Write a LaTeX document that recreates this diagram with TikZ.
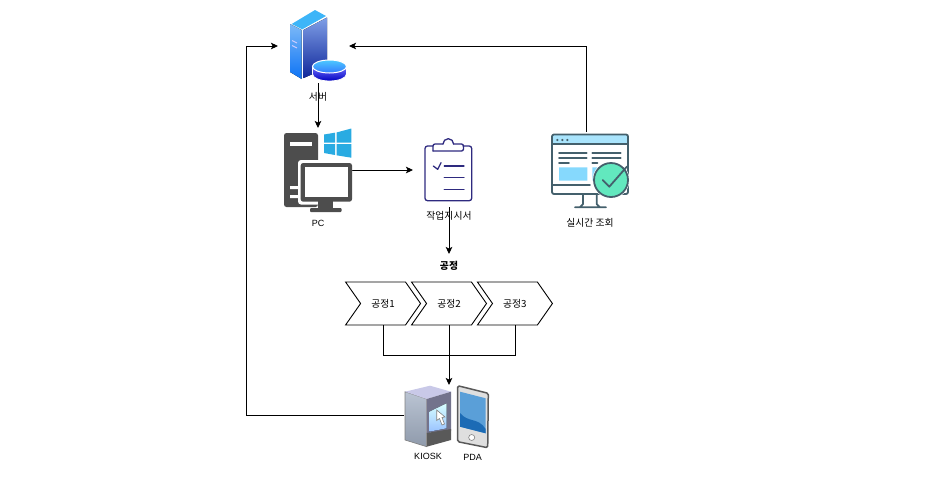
\documentclass[tikz,border=0pt]{standalone}
\usepackage{fontspec}
\setmainfont{Liberation Sans}
\newfontfamily\cjk{Noto Sans CJK KR}
\usetikzlibrary{arrows.meta, calc, positioning, shapes.symbols}
\definecolor{pcgray}{HTML}{4D4D4D}
\definecolor{winblue}{HTML}{29ABE2}
\definecolor{docnavy}{HTML}{2E2A7F}
\definecolor{slate}{HTML}{44606C}
\definecolor{barblue}{HTML}{A9E4FC}
\definecolor{paneblue}{HTML}{86D9FD}
\definecolor{okgreen}{HTML}{62E8BE}
\definecolor{sideup}{HTML}{7CB9F7}
\definecolor{sidedown}{HTML}{0D73F5}
\definecolor{faceup}{HTML}{7F9FE6}
\definecolor{facedown}{HTML}{10279B}
\definecolor{lidblue}{HTML}{3DB5F8}
\definecolor{kioskup}{HTML}{BAC4D3}
\definecolor{kioskdown}{HTML}{8F9AAB}
\definecolor{pdaup}{HTML}{5A9FD8}
\definecolor{pdadown}{HTML}{1C6BB5}

\begin{document}
\begin{tikzpicture}[x=1pt, y=-1pt, line width=0.9pt,
  iconbox/.style={inner sep=0, outer sep=0},
  caption/.style={inner sep=0, font=\fontsize{9}{10}\selectfont},
  cjkcaption/.style={inner sep=0, font=\fontsize{9.8}{10}\selectfont\cjk},
  process/.style={draw, shape=signal, signal to=east, signal from=west, signal pointer angle=110, minimum width=75pt, minimum height=43pt, inner sep=0, outer sep=0, font=\fontsize{9.8}{10}\selectfont\cjk},
  flow/.style={-{Stealth[length=7pt, width=6.5pt, inset=1.5pt]}}
  ]
  \useasboundingbox (0,0) rectangle (951,480);

  % invisible boxes the connectors attach to
  \node[iconbox, minimum width=71pt, minimum height=74pt] (server) at (313.5,46) {};
  \node[iconbox, minimum width=68pt, minimum height=84pt] (pc) at (318,170) {};
  \node[iconbox, minimum width=72pt, minimum height=74pt, right=61pt of pc] (doc) {};
  \node[iconbox, minimum width=80pt, minimum height=76pt, right=61pt of doc] (status) {};

  \node[iconbox, below=47pt of doc, minimum height=24pt, font=\fontsize{9.8}{10}\selectfont\cjk\bfseries] (title) {공정};
  \node[process, below=4pt of title] (p2) {공정2};
  \node[process, left=6pt of p2] (p1) {공정1};
  \node[process, right=6pt of p2] (p3) {공정3};
  \node[iconbox, minimum width=90pt, minimum height=60pt, below=60pt of p2] (terminal) {};
  \coordinate (back) at (246,46);

  \draw[flow] (server.south -| pc.north) -- (pc.north);
  \draw[flow] (pc.east) -- (doc.west);
  \draw[flow] (doc.south) -- (title.north);
  \draw[flow] (status.north) |- (server.east);
  \draw (p1.south) -- ++(0,30) -| (p3.south);
  \draw[flow] (p2.south) -- (terminal.north);
  \draw[flow] (terminal.west) -| (back) -- (server.west);

  % server
  \fill[top color=sideup, bottom color=sidedown] (290,24) -- (301.7,30) -- (301.7,79) -- (290,72) -- cycle;
  \fill[top color=faceup, bottom color=facedown] (303.5,30) -- (327,17.5) -- (327,68) -- (303.5,78) -- cycle;
  \fill[lidblue] (291.7,24) -- (315,10) -- (326,16) -- (302.3,29.3) -- cycle;
  \draw[white!80!blue, line width=0.9pt] (292,40.5) -- (297,43) (292,45.5) -- (297,48);
  \draw[draw=white, line width=0.8pt, top color=blue!55!white, bottom color=blue!75!black] (312.5,66) -- (312.5,74) arc[start angle=180, end angle=0, x radius=17, y radius=7] -- (346.5,66) -- cycle;
  \draw[bottom color=blue!65!cyan!80, top color=cyan!70!blue!70, draw=white, line width=1pt] (329.5,66.5) ellipse[x radius=17, y radius=6.5];

  % pc with monitor
  \fill[pcgray, rounded corners=2.5pt] (284,133) rectangle (318,207);
  \fill[white] (290,141.7) rectangle (311.7,146);
  \fill[white] (290,186) rectangle (298,189) (290,195) rectangle (298,198);
  \fill[white, rounded corners=3pt] (298,160) rectangle (352,204.5);
  \fill[pcgray, rounded corners=2.5pt] (300.7,163) rectangle (352,201.7);
  \fill[white] (305,167.3) rectangle (348.3,197);
  \fill[pcgray] (318,201) rectangle (333,208);
  \fill[pcgray, rounded corners=1pt] (310,208) rectangle (341.7,212);
  % windows logo
  \fill[winblue] (324,134.5) -- (335,132.7) -- (335,142.6) -- (324,142.6) -- cycle;
  \fill[winblue] (336.5,132.5) -- (351.3,128.5) -- (351.3,142.6) -- (336.5,142.6) -- cycle;
  \fill[winblue] (324,144) -- (335,144) -- (335,155) -- (324,153) -- cycle;
  \fill[winblue] (336.5,144) -- (351.3,144) -- (351.3,157.7) -- (336.5,155.3) -- cycle;

  % clipboard
  \begin{scope}[draw=docnavy, line width=1.3pt, line cap=round, line join=round]
    \draw[rounded corners=2.5pt] (433,146) -- (425,146) -- (425,200.7) -- (471.7,200.7) -- (471.7,146) -- (463,146);
    \draw[rounded corners=2pt] (433,151) -- (433,144) -- (443,144);
    \draw (443,144) arc[start angle=180, end angle=360, radius=5.3];
    \draw[rounded corners=2pt] (453.6,144) -- (463.5,144) -- (463.5,151) -- (433,151);
    \draw (444.3,166) -- (464,166) (444.3,177.7) -- (464,177.7) (444.3,189.3) -- (464,189.3);
    \draw (433.3,166) -- (437.7,169.3) -- (441,162.7);
  \end{scope}

  % monitor with check mark
  \begin{scope}[line width=1.8pt, draw=slate, line cap=round, line join=round]
    \fill[barblue] (552,144) -- (552,136) -- (554,134.5) -- (626,134.5) -- (628,136) -- (628,144) -- cycle;
    \fill[paneblue] (559,167.3) rectangle (587.3,180.7) (592.3,167.3) rectangle (605,180.7);
    \draw[rounded corners=2pt] (552,134.5) rectangle (628,194);
    \draw (552,144) -- (628,144) (552,185) -- (590,185);
    \fill[slate] (557.3,140) circle[radius=1.2pt] (562.3,140) circle[radius=1.2pt] (567.3,140) circle[radius=1.2pt];
    \draw (559,153) -- (586.7,153) (559,158) -- (586.7,158) (559,163) -- (569,163);
    \draw (592.3,153) -- (620.7,153) (592.3,158) -- (620.7,158) (592.3,163) -- (597.5,163);
    \draw (583,194) -- (583,204) -- (580,207.3) (596.7,194) -- (596.7,204) -- (600,207.3) (575,207.3) -- (606,207.3);
    \fill[white] (611,180) circle[radius=18.5pt];
    \draw[fill=okgreen] (611,180) circle[radius=17pt];
    \draw (602.7,180) -- (609.3,186.7) -- (627,166.5);
  \end{scope}

  % kiosk
  \draw[draw=gray, line width=0.6pt, top color=kioskup, bottom color=kioskdown] (405,391.7) -- (426.7,399) -- (426.7,446.7) -- (405,440) -- cycle;
  \fill[gray!60!blue!30] (405,391.7) -- (430,385.7) -- (451,391.7) -- (426.7,399) -- cycle;
  \fill[gray!90!blue] (426.7,399) -- (451,391.7) -- (451,431) -- (426.7,433) -- cycle;
  \fill[black!65] (426.7,433) -- (451,429) -- (451,440) -- (426.7,446.7) -- cycle;
  \fill[top color=cyan!15, bottom color=cyan!40!blue!40] (429.3,411.7) -- (446.7,403.3) -- (446.7,428.3) -- (429.3,431.7) -- cycle;
  \draw[fill=white, draw=gray, line width=0.6pt] (436.7,410) -- (436.7,420.5) -- (439.5,418.5) -- (442,425) -- (444.5,424) -- (442,417.5) -- (445,417) -- cycle;

  % pda
  \draw[draw=black!65, line width=1.5pt, fill=gray!25, rounded corners=1.5pt] (457.7,385.7) -- (488.3,393.3) -- (487.7,447.7) -- (457.7,441.7) -- cycle;
  \fill[pdaup] (460,391.7) -- (485.7,398.3) -- (485.7,433.3) -- (460,426.7) -- cycle;
  \fill[pdadown] (460,413) .. controls (468,423) and (478,417) .. (485.7,429) -- (485.7,433.3) -- (460,426.7) -- cycle;
  \draw[gray, line width=0.6pt, fill=white] (471.7,437.5) circle[radius=3pt];

  % captions
  \node[cjkcaption, below=8.5pt of server.south -| pc.north] (serverlabel) {서버};
  \node[caption, below=8pt of pc] (pclabel) {PC};
  \node[cjkcaption, below=3.5pt of doc] (doclabel) {작업지시서};
  \node[cjkcaption, below=9.5pt of status, xshift=4pt] (statuslabel) {실시간 조회};
  \node[caption, below=8pt of terminal, xshift=-21pt] (kiosklabel) {KIOSK};
  \node[caption, below=9pt of terminal, xshift=23.5pt] (pdalabel) {PDA};
\end{tikzpicture}
\end{document}
